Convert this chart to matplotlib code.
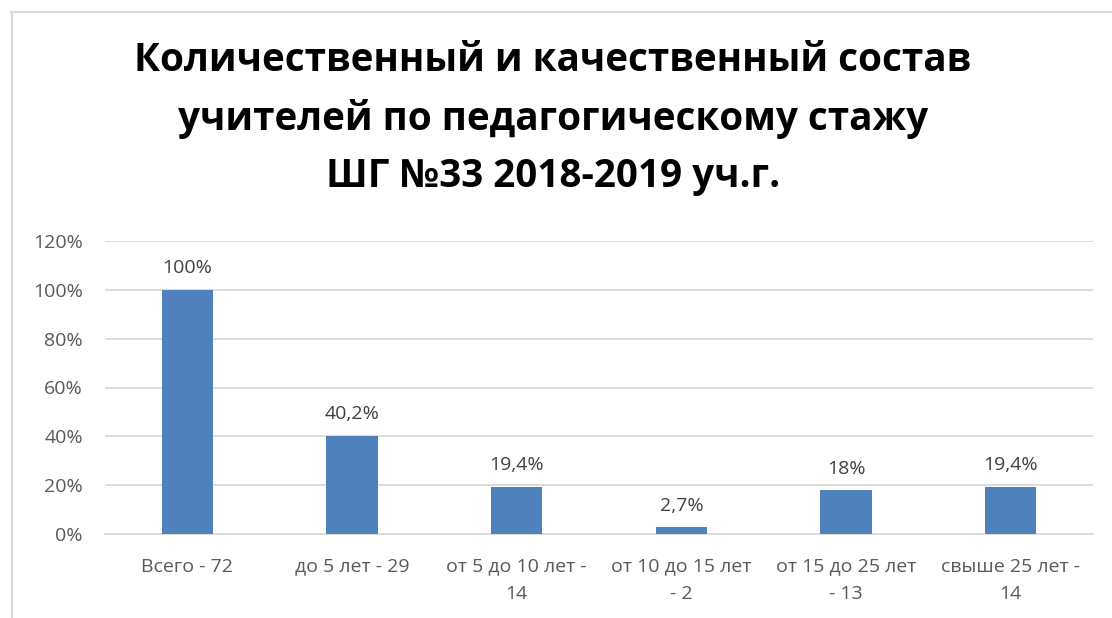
import matplotlib
matplotlib.use('Agg')
import matplotlib.pyplot as plt
from matplotlib.lines import Line2D
import numpy as np

plt.rcParams['font.family'] = ['Open Sans', 'DejaVu Sans']

categories = ["Всего - 72", "до 5 лет - 29", "от 5 до 10 лет -\n14",
              "от 10 до 15 лет\n- 2", "от 15 до 25 лет\n- 13", "свыше 25 лет -\n14"]
values = [1.00, 0.402, 0.194, 0.027, 0.18, 0.194]
value_labels = ["100%", "40,2%", "19,4%", "2,7%", "18%", "19,4%"]
yticks = [0, 0.2, 0.4, 0.6, 0.8, 1.0, 1.2]
ytick_labels = ["0%", "20%", "40%", "60%", "80%", "100%", "120%"]
title = "Количественный и качественный состав\nучителей по педагогическому стажу\nШГ №33 2018-2019 уч.г."

W, H = 1112, 618
fig = plt.figure(figsize=(W / 100, H / 100), dpi=100)
ax = fig.add_axes([105 / W, 1 - 534 / H, (1093 - 105) / W, (534 - 241) / H])

x = np.arange(len(categories))
ax.bar(x, values, width=0.31, color='#4F81BD', zorder=3)
ax.set_xlim(-0.5, len(categories) - 0.5)
ax.set_ylim(0, 1.2)
ax.set_yticks(yticks)
ax.set_yticklabels(ytick_labels, fontsize=14, color='#595959')
ax.set_xticks(x)
ax.set_xticklabels(categories, fontsize=14, color='#595959', linespacing=1.65)
ax.tick_params(length=0)
ax.tick_params(axis='y', pad=16)
ax.tick_params(axis='x', pad=17)
ax.grid(axis='y', color='#D9D9D9', linewidth=1.3, zorder=0)
for s in ['top', 'right', 'left']:
    ax.spines[s].set_visible(False)
ax.spines['bottom'].set_color('#D9D9D9')
ax.spines['bottom'].set_linewidth(1.3)

for xi, v, lab in zip(x, values, value_labels):
    ax.annotate(lab, (xi, v), xytext=(0, 9), textcoords='offset points',
                ha='center', va='bottom', fontsize=14, color='#404040')

fig.text(553 / W, 1 - 118.5 / H, title, ha='center', va='center', fontsize=27.8,
         fontweight='bold', color='black', linespacing=1.6)

# chart border (top and left edges visible)
fig.add_artist(Line2D([11 / W, 1], [1 - 11.5 / H, 1 - 11.5 / H], color='#D9D9D9', linewidth=1.5))
fig.add_artist(Line2D([12 / W, 12 / W], [0, 1 - 11.5 / H], color='#D9D9D9', linewidth=1.5))

fig.savefig('out.png', dpi=100, facecolor='white')
